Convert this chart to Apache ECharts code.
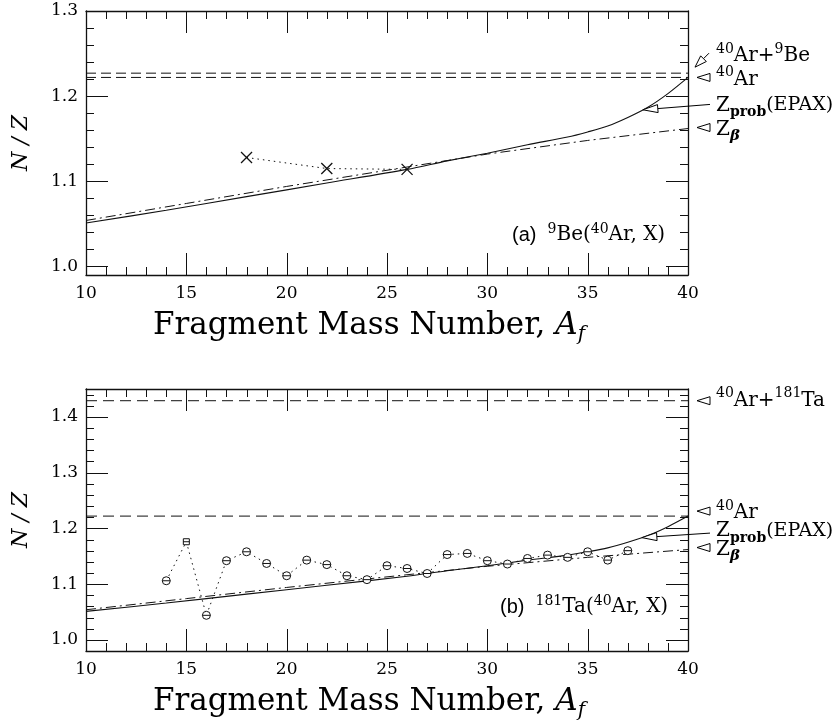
<!DOCTYPE html>
<html><head><meta charset="utf-8">
<script src="https://cdn.jsdelivr.net/npm/echarts@6/dist/echarts.min.js"></script>
<style>html,body{margin:0;padding:0;background:#fff}#c{width:837px;height:728px}</style>
</head><body><div id="c"></div>
<script>
// ---------- data ----------
const massRange = [10, 40];
// top panel: 9Be(40Ar,X) measured points (crosses)
const crossMass = [18, 22, 26];
const crossNZ = [1.128, 1.115, 1.114];
// bottom panel: 181Ta(40Ar,X) measured points
const taMass = [14, 15, 16, 17, 18, 19, 20, 21, 22, 23, 24, 25, 26, 27, 28, 29, 30, 31, 32, 33, 34, 35, 36, 37];
const taNZ = [1.106, 1.176, 1.044, 1.142, 1.158, 1.137, 1.115, 1.143, 1.135, 1.115, 1.108, 1.133, 1.128, 1.119, 1.153, 1.155, 1.142, 1.136, 1.146, 1.152, 1.148, 1.158, 1.143, 1.160];
const squareMass = 15; // point drawn with a square marker
// Z_prob (EPAX) curve
const epaxMass = [10, 14, 18, 22, 26, 28, 30, 32, 34, 35, 36, 37, 38, 39, 40];
const epaxNZ = [1.051, 1.066, 1.082, 1.098, 1.114, 1.124, 1.133, 1.143, 1.152, 1.158, 1.165, 1.175, 1.187, 1.203, 1.222];
// Z_beta line
const zbMass = [10, 15, 20, 25, 30, 35, 40];
const zbNZ = [1.054, 1.074, 1.094, 1.113, 1.132, 1.148, 1.162];
// reference N/Z levels
const refTop = [1.227, 1.222];    // 40Ar+9Be, 40Ar
const refBottom = [1.429, 1.222]; // 40Ar+181Ta, 40Ar
// axis ranges and ticks
const xTickInterval = 5;
const xMinorStep = 1;
const yMinorStep = 0.02;
const yRangeTop = [0.99, 1.30];
const yRangeBottom = [0.98, 1.45];
const xMajorTicks = [10, 15, 20, 25, 30, 35, 40];
const yMajorTop = [1.0, 1.1, 1.2, 1.3];
const yMajorBottom = [1.0, 1.1, 1.2, 1.3, 1.4];

// ---------- styling ----------
const black = '#111';
const serif = 'DejaVu Serif';
const crossPath = 'path://M0,0L10,10M10,0L0,10';
const circPath = 'path://M0,5A5,5,0,1,1,10,5A5,5,0,1,1,0,5ZM0,5L10,5';
const sqPath = 'path://M0,0L10,0L10,10L0,10ZM0,5L10,5';
const majorLen = 22, minorLen = 8;

const grids = [
  {left: 86, top: 11, width: 602, height: 264},
  {left: 86, top: 389, width: 602, height: 262}
];
const yRanges = [yRangeTop, yRangeBottom];
const yMajors = [yMajorTop, yMajorBottom];

function xNameStyle() {
  return {
    padding: [0, 36, 0, 0],
    rich: {
      m: {fontFamily: serif, fontSize: 31, color: '#000', lineHeight: 38, verticalAlign: 'middle'},
      i: {fontFamily: serif, fontSize: 31, fontStyle: 'italic', color: '#000', lineHeight: 38, verticalAlign: 'middle'},
      s: {fontFamily: serif, fontSize: 20, fontStyle: 'italic', color: '#000', lineHeight: 22, verticalAlign: 'bottom'}
    }
  };
}
function commonAxis(g) {
  return {
    gridIndex: g, type: 'value',
    axisLine: {show: true, onZero: false, lineStyle: {color: black, width: 1.3}},
    axisTick: {show: false},
    minorTick: {show: false},
    splitLine: {show: false}
  };
}
function xAxes(g) {
  const a = Object.assign(commonAxis(g), {min: massRange[0], max: massRange[1], interval: xTickInterval, position: 'bottom',
    axisLabel: {show: true, margin: 10, color: '#000', fontFamily: serif, fontSize: 17},
    name: '{m|Fragment Mass Number, }{i|A}{s|f}', nameLocation: 'middle', nameGap: 32, nameTextStyle: xNameStyle()});
  const b = Object.assign(commonAxis(g), {min: massRange[0], max: massRange[1], interval: xTickInterval, position: 'top', axisLabel: {show: false}});
  return [a, b];
}
function yAxes(g, range, showMax) {
  const a = Object.assign(commonAxis(g), {min: range[0], max: range[1], splitNumber: 4, position: 'left',
    axisLabel: {show: true, margin: 8, color: '#000', fontFamily: serif, fontSize: 17,
      showMinLabel: false, showMaxLabel: showMax, formatter: v => v.toFixed(1)},
    name: 'N / Z', nameLocation: 'middle', nameGap: 54,
    nameTextStyle: {fontFamily: serif, fontStyle: 'italic', fontSize: 22, color: '#000'}});
  const b = Object.assign(commonAxis(g), {min: range[0], max: range[1], splitNumber: 4, position: 'right', axisLabel: {show: false}});
  return [a, b];
}

// ---------- inward tick marks on all four sides (placed through the axes' own scales) ----------
function tickItems(g) {
  const yr = yRanges[g], items = [];
  const isMajor = (list, v) => list.some(t => Math.abs(t - v) < 1e-6);
  for (let v = massRange[0]; v <= massRange[1] + 1e-9; v += xMinorStep) {
    const r = Math.round(v * 1000) / 1000;
    items.push([r, yr[0], 0, isMajor(xMajorTicks, r) ? 1 : 0]);
  }
  for (let k = Math.ceil(yr[0] / yMinorStep - 1e-6); k * yMinorStep <= yr[1] + 1e-9; k++) {
    const r = Math.round(k * yMinorStep * 1000) / 1000;
    if (r <= yr[0] + 1e-9 || r >= yr[1] - 1e-9) continue;
    items.push([massRange[0], r, 1, isMajor(yMajors[g], r) ? 1 : 0]);
  }
  return items;
}
function crisp(v) { return Math.round(v) + 0.5; }
function tickSeries(g) {
  const yr = yRanges[g];
  return {
    type: 'custom', xAxisIndex: g * 2, yAxisIndex: g * 2, silent: true, clip: false, z: 4,
    data: tickItems(g),
    renderItem: function (params, api) {
      const kind = api.value(2), len = api.value(3) ? majorLen : minorLen;
      const st = {stroke: black, lineWidth: 1};
      if (kind === 0) {
        const v = api.value(0), b = api.coord([v, yr[0]]), t = api.coord([v, yr[1]]), x = crisp(b[0]);
        return {type: 'group', children: [
          {type: 'line', shape: {x1: x, y1: b[1], x2: x, y2: b[1] - len}, style: st},
          {type: 'line', shape: {x1: x, y1: t[1], x2: x, y2: t[1] + len}, style: st}
        ]};
      }
      const v = api.value(1), l = api.coord([massRange[0], v]), r = api.coord([massRange[1], v]), y = crisp(l[1]);
      return {type: 'group', children: [
        {type: 'line', shape: {x1: l[0], y1: y, x2: l[0] + len, y2: y}, style: st},
        {type: 'line', shape: {x1: r[0], y1: y, x2: r[0] - len, y2: y}, style: st}
      ]};
    }
  };
}

function refLine(v, xi, yi, dash) {
  return {type: 'line', xAxisIndex: xi, yAxisIndex: yi, data: [[massRange[0], v], [massRange[1], v]],
    symbol: 'none', lineStyle: {color: black, width: 1, type: dash}, silent: true};
}
function curve(xs, ys, xi, yi, style, smooth) {
  return {type: 'line', xAxisIndex: xi, yAxisIndex: yi, data: xs.map((m, i) => [m, ys[i]]),
    symbol: 'none', smooth: smooth || false, lineStyle: Object.assign({color: black, width: 1.1}, style), silent: true};
}

const series = [
  refLine(refTop[0], 0, 0, [10, 5]),
  refLine(refTop[1], 0, 0, [10, 5]),
  curve(epaxMass, epaxNZ, 0, 0, {type: 'solid'}, 0.3),
  curve(zbMass, zbNZ, 0, 0, {type: [10, 4, 2, 4], width: 1}),
  {type: 'line', xAxisIndex: 0, yAxisIndex: 0, data: crossMass.map((m, i) => [m, crossNZ[i]]),
    symbol: crossPath, symbolSize: 11, showAllSymbol: true,
    itemStyle: {color: 'rgba(0,0,0,0)', borderColor: black, borderWidth: 1.3},
    lineStyle: {color: black, width: 1, type: [1.5, 4]}},
  refLine(refBottom[0], 2, 2, [11, 6]),
  refLine(refBottom[1], 2, 2, [11, 6]),
  curve(epaxMass, epaxNZ, 2, 2, {type: 'solid'}, 0.3),
  curve(zbMass, zbNZ, 2, 2, {type: [10, 4, 2, 4], width: 1}),
  {type: 'line', xAxisIndex: 2, yAxisIndex: 2,
    data: taMass.map((m, i) => m === squareMass ? {value: [m, taNZ[i]], symbol: sqPath, symbolSize: 6} : [m, taNZ[i]]),
    symbol: circPath, symbolSize: 8, showAllSymbol: true,
    itemStyle: {color: '#fff', borderColor: black, borderWidth: 1},
    lineStyle: {color: black, width: 1, type: [1.5, 4]}},
  tickSeries(0),
  tickSeries(1)
];

// ---------- annotations anchored to data (same linear mapping as the grid axes) ----------
function px(g, pt) {
  const gr = grids[g], yr = yRanges[g];
  return [gr.left + (pt[0] - massRange[0]) / (massRange[1] - massRange[0]) * gr.width,
          gr.top + gr.height - (pt[1] - yr[0]) / (yr[1] - yr[0]) * gr.height];
}
function interp(xs, ys, m) {
  for (let i = 1; i < xs.length; i++) if (m <= xs[i]) {
    const t = (m - xs[i - 1]) / (xs[i] - xs[i - 1]); return ys[i - 1] + t * (ys[i] - ys[i - 1]);
  }
  return ys[ys.length - 1];
}
function head(tip, from, len, half) {
  const dx = from[0] - tip[0], dy = from[1] - tip[1], L = Math.hypot(dx, dy);
  const ux = dx / L, uy = dy / L, bx = tip[0] + ux * len, by = tip[1] + uy * len;
  return {poly: {type: 'polygon', z: 100, shape: {points: [tip, [bx - uy * half, by + ux * half], [bx + uy * half, by - ux * half]]},
    style: {fill: '#fff', stroke: '#000', lineWidth: 1}}, base: [bx, by]};
}
function arrow(tip, from, len, half) {
  const h = head(tip, from, len, half);
  return [h.poly, {type: 'line', z: 99, shape: {x1: h.base[0], y1: h.base[1], x2: from[0], y2: from[1]}, style: {stroke: '#000', lineWidth: 1}}];
}
function tri(x, y) { return head([x, y], [x + 20, y], 13, 4).poly; }
const rich = {
  m: {fontFamily: serif, fontSize: 20, lineHeight: 28, verticalAlign: 'middle', fill: '#000'},
  mm: {fontFamily: serif, fontSize: 19, lineHeight: 28, verticalAlign: 'middle', fill: '#000'},
  sup: {fontFamily: serif, fontSize: 14, lineHeight: 13, verticalAlign: 'top', fill: '#000'},
  sub: {fontFamily: serif, fontSize: 14, fontWeight: 'bold', lineHeight: 13, verticalAlign: 'bottom', fill: '#000'},
  beta: {fontFamily: serif, fontSize: 15, fontWeight: 'bold', fontStyle: 'italic', lineHeight: 13, verticalAlign: 'bottom', fill: '#000'},
  sans: {fontFamily: 'Liberation Sans', fontSize: 20, lineHeight: 26, verticalAlign: 'middle', fill: '#000'},
  pm: {fontFamily: serif, fontSize: 20, lineHeight: 26, verticalAlign: 'middle', fill: '#000'},
  psup: {fontFamily: serif, fontSize: 14, lineHeight: 12, verticalAlign: 'top', fill: '#000'}
};
function label(x, y, text) {
  return {type: 'text', x: x, y: y, z: 100, style: {text: text, rich: rich, align: 'left', verticalAlign: 'middle'}};
}

const gr = [];
const tx = 716, tipOff = 9;
let p = px(0, [massRange[1], refTop[0]]);
gr.push(...arrow([p[0] + 7, p[1] - 6], [p[0] + 21, p[1] - 20], 12, 4));
gr.push(label(tx, p[1] - 17, '{sup|40}{m|Ar+}{sup|9}{m|Be}'));
p = px(0, [massRange[1], refTop[1]]);
gr.push(tri(p[0] + tipOff, p[1]));
gr.push(label(tx, p[1] + 2, '{sup|40}{m|Ar}'));
let m = 37.75;
const pt1 = px(0, [massRange[1], refTop[1]]);
p = px(0, [m, interp(epaxMass, epaxNZ, m)]);
gr.push(...arrow(p, [710, pt1[1] + 27], 15, 4));
gr.push(label(tx, pt1[1] + 28, '{m|Z}{sub|prob}{mm|(EPAX)}'));
p = px(0, [massRange[1], zbNZ[zbNZ.length - 1]]);
gr.push(tri(p[0] + tipOff, p[1] - 1));
gr.push(label(tx, p[1] + 1, '{m|Z}{beta|β}'));
p = px(1, [massRange[1], refBottom[0]]);
gr.push(tri(p[0] + tipOff, p[1]));
gr.push(label(tx, p[1], '{sup|40}{m|Ar+}{sup|181}{m|Ta}'));
p = px(1, [massRange[1], refBottom[1]]);
gr.push(tri(p[0] + tipOff, p[1] - 5));
gr.push(label(tx, p[1] - 3, '{sup|40}{m|Ar}'));
m = 37.7;
const pb = px(1, [massRange[1], refBottom[1]]);
p = px(1, [m, interp(epaxMass, epaxNZ, m)]);
gr.push(...arrow(p, [710, pb[1] + 17], 15, 4));
gr.push(label(tx, pb[1] + 15, '{m|Z}{sub|prob}{mm|(EPAX)}'));
p = px(1, [massRange[1], zbNZ[zbNZ.length - 1]]);
gr.push(tri(p[0] + tipOff, p[1] - 2));
gr.push(label(tx, p[1], '{m|Z}{beta|β}'));
p = px(0, [massRange[1], yRangeTop[0]]);
gr.push(label(512, p[1] - 40, '{sans|(a)  }{psup|9}{pm|Be(}{psup|40}{pm|Ar, X)}'));
p = px(1, [massRange[1], yRangeBottom[0]]);
gr.push(label(500, p[1] - 44, '{sans|(b)  }{psup|181}{pm|Ta(}{psup|40}{pm|Ar, X)}'));

const chart = echarts.init(document.getElementById('c'));
chart.setOption({
  animation: false,
  grid: grids,
  xAxis: xAxes(0).concat(xAxes(1)),
  yAxis: yAxes(0, yRangeTop, true).concat(yAxes(1, yRangeBottom, false)),
  series: series,
  graphic: gr
});
</script>
</body></html>
